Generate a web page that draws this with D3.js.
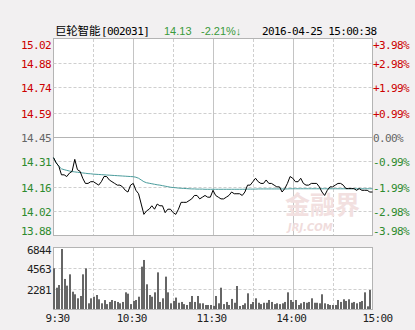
<!DOCTYPE html>
<html>
<head>
<meta charset="utf-8">
<script src="https://cdn.jsdelivr.net/npm/d3@7"></script>
<style>
  body { margin: 0; background: #f2f0f1; }
  svg { display: block; }
</style>
</head>
<body>
<div id="viz"></div>
<script>
// tick labels
var prevClose = 14.45;
var priceTicks = [15.02, 14.88, 14.74, 14.59, 14.45, 14.31, 14.16, 14.02, 13.88];
var pctTicks = ["+3.98%", "+2.98%", "+1.99%", "+0.99%", "0.00%", "-0.99%", "-1.99%", "-2.98%", "-3.98%"];
var volTicks = [2281, 4563, 6844];
var timeLabels = ["9:30", "10:30", "11:30", "14:00", "15:00"];
var timeMinutes = [0, 60, 120, 180, 240];
var halfHours = [30, 90, 150, 210];

// one point every 2 trading minutes, 9:30 .. 15:00
var price = [14.33, 14.30, 14.28, 14.23, 14.23, 14.22, 14.24, 14.25, 14.32, 14.26,
  14.25, 14.21, 14.18, 14.18, 14.19, 14.19, 14.18, 14.17, 14.19, 14.22,
  14.22, 14.20, 14.19, 14.18, 14.17, 14.17, 14.16, 14.14, 14.13, 14.17,
  14.18, 14.14, 14.12, 14.06, 14.00, 14.02, 14.03, 14.05, 14.03, 14.06,
  14.05, 14.05, 14.01, 14.03, 14.03, 14.01, 14.00, 14.03, 14.07, 14.07,
  14.07, 14.08, 14.09, 14.11, 14.11, 14.09, 14.10, 14.11, 14.10, 14.10,
  14.14, 14.11, 14.10, 14.09, 14.09, 14.10, 14.11, 14.13, 14.12, 14.12,
  14.12, 14.11, 14.13, 14.17, 14.17, 14.19, 14.21, 14.19, 14.18, 14.18,
  14.20, 14.18, 14.18, 14.17, 14.16, 14.16, 14.13, 14.15, 14.18, 14.22,
  14.21, 14.19, 14.19, 14.21, 14.18, 14.17, 14.17, 14.18, 14.18, 14.18,
  14.16, 14.13, 14.11, 14.14, 14.16, 14.16, 14.17, 14.18, 14.18, 14.17,
  14.15, 14.15, 14.15, 14.15, 14.14, 14.15, 14.14, 14.14, 14.14, 14.13,
  14.13];

var avgPrice = [14.330, 14.300, 14.280, 14.265, 14.260, 14.256, 14.252, 14.249, 14.247, 14.245,
  14.243, 14.241, 14.239, 14.237, 14.236, 14.234, 14.233, 14.232, 14.231, 14.230,
  14.229, 14.228, 14.227, 14.226, 14.225, 14.224, 14.223, 14.222, 14.221, 14.220,
  14.219, 14.216, 14.210, 14.200, 14.190, 14.184, 14.181, 14.178, 14.175, 14.172,
  14.170, 14.167, 14.164, 14.161, 14.158, 14.156, 14.155, 14.153, 14.152, 14.151,
  14.150, 14.149, 14.148, 14.148, 14.147, 14.147, 14.147, 14.146, 14.146, 14.146,
  14.146, 14.146, 14.146, 14.146, 14.146, 14.146, 14.146, 14.146, 14.146, 14.146,
  14.146, 14.146, 14.146, 14.147, 14.147, 14.147, 14.147, 14.148, 14.148, 14.148,
  14.148, 14.148, 14.148, 14.148, 14.148, 14.148, 14.148, 14.148, 14.148, 14.149,
  14.149, 14.149, 14.149, 14.149, 14.149, 14.149, 14.149, 14.149, 14.149, 14.149,
  14.149, 14.149, 14.149, 14.149, 14.149, 14.149, 14.149, 14.149, 14.149, 14.149,
  14.149, 14.149, 14.149, 14.149, 14.149, 14.149, 14.149, 14.149, 14.149, 14.149,
  14.149];

var volume = [4570, 2390, 2690, 6730, 3370, 2620, 3890, 1940, 1650, 1200,
  1460, 3890, 4560, 640, 1200, 1380, 1570, 1090, 640, 1000,
  550, 790, 1010, 900, 790, 640, 790, 1870, 1720, 550,
  900, 1010, 1380, 4750, 5500, 2770, 1570, 1380, 1870, 4110,
  790, 1200, 3630, 1870, 640, 900, 1280, 700, 790, 550,
  450, 790, 1460, 790, 1460, 640, 640, 450, 450, 450,
  350, 1460, 640, 2390, 550, 790, 450, 1130, 700, 2580,
  340, 450, 640, 1760, 550, 790, 1200, 700, 550, 700,
  700, 1010, 790, 550, 640, 550, 640, 790, 1870, 1010,
  790, 1010, 450, 640, 790, 700, 790, 1200, 700, 700,
  640, 1650, 640, 550, 450, 450, 450, 1010, 790, 1090,
  900, 1090, 700, 790, 640, 790, 900, 1870, 300, 2130];

var W = 415, H = 330;
var mono = "'DejaVu Sans Mono', monospace";
var red = "#cc0000", green = "#2e8b2e", grey = "#666666";

function tone(v) {
  if (v > prevClose) return red;
  if (v < prevClose) return green;
  return grey;
}
function crisp(v) { return Math.round(v) + 0.5; }

var svg = d3.select("#viz").append("svg")
  .attr("width", W).attr("height", H);

svg.append("rect").attr("width", W).attr("height", H).attr("fill", "#f2f0f1");

var x = d3.scaleLinear().domain([0, 240]).range([53.5, 372.5]);
var y = d3.scaleLinear().domain([13.88, 15.02]).range([235, 39]);
var yv = d3.scaleLinear().domain([0, 6844]).range([309, 248]);

// header
var head = svg.append("g").style("font-size", "11px").style("letter-spacing", "-0.6px");
head.append("text").attr("x", 55).attr("y", 35)
  .style("font-family", "'Noto Sans CJK SC'").style("font-size", "11.5px").style("letter-spacing", "-0.2px")
  .attr("fill", "#000").text("巨轮智能");
head.append("text").attr("x", 101).attr("y", 35).style("font-family", mono)
  .attr("fill", "#000").text("[002031]");
head.append("text").attr("x", 164).attr("y", 35).style("font-family", "'Liberation Sans'")
  .style("letter-spacing", "0px").attr("fill", "#3a9a3a").text("14.13");
head.append("text").attr("x", 201).attr("y", 35).style("font-family", "'Liberation Sans'")
  .style("letter-spacing", "0px").attr("fill", "#3a9a3a").text("-2.21%↓");
head.append("text").attr("x", 262).attr("y", 35).style("font-family", mono)
  .attr("fill", "#000").text("2016-04-25 15:00:38");

// panels
svg.append("rect").attr("x", 53.5).attr("y", y(15.02) - 0.5)
  .attr("width", x(240) - x(0)).attr("height", y(13.88) - y(15.02) + 1)
  .attr("fill", "#fff").attr("stroke", "#b4b4b4");
svg.append("rect").attr("x", 53.5).attr("y", yv(6844) - 0.5)
  .attr("width", x(240) - x(0)).attr("height", yv(0) - yv(6844) + 1)
  .attr("fill", "#fff").attr("stroke", "#b4b4b4");

var grid = svg.append("g");

// horizontal price grid
priceTicks.slice(1, -1).forEach(function(t) {
  grid.append("line")
    .attr("x1", x(0)).attr("x2", x(240))
    .attr("y1", crisp(y(t))).attr("y2", crisp(y(t)))
    .attr("stroke", t == prevClose ? "#b4b4b4" : "#cfcfcf")
    .attr("stroke-dasharray", t == prevClose ? null : "3,2");
});
// horizontal volume grid
volTicks.slice(0, -1).forEach(function(t) {
  grid.append("line")
    .attr("x1", x(0)).attr("x2", x(240))
    .attr("y1", crisp(yv(t))).attr("y2", crisp(yv(t)))
    .attr("stroke", "#cfcfcf").attr("stroke-dasharray", "3,2");
});
// vertical grid in both panels
[[y(15.02), y(13.88)], [yv(6844), yv(0)]].forEach(function(r) {
  halfHours.forEach(function(m) {
    grid.append("line").attr("x1", crisp(x(m))).attr("x2", crisp(x(m)))
      .attr("y1", r[0]).attr("y2", r[1])
      .attr("stroke", "#cfcfcf").attr("stroke-dasharray", "3,2");
  });
  timeMinutes.slice(1, -1).forEach(function(m) {
    grid.append("line").attr("x1", crisp(x(m))).attr("x2", crisp(x(m)))
      .attr("y1", r[0]).attr("y2", r[1]).attr("stroke", "#c4c4c4");
  });
});

// watermark
svg.append("text").attr("x", 285).attr("y", 214)
  .style("font-family", "'Noto Sans CJK SC'").style("font-size", "25px").style("font-weight", "bold")
  .attr("fill", "#f2e0e0").text("金融界");
svg.append("text").attr("x", 288).attr("y", 231)
  .style("font-family", "'DejaVu Sans'").style("font-size", "10px").style("font-weight", "bold")
  .style("font-style", "italic").attr("fill", "#f0dcdc").text("JRJ.COM");

// average and price lines
var avgLine = d3.line().x(function(d, i) { return x(i * 2); }).y(function(d) { return y(d); });
svg.append("path").datum(avgPrice).attr("d", avgLine)
  .attr("fill", "none").attr("stroke", "#4a9c9c").attr("stroke-width", 1);
svg.append("path").datum(price).attr("d", avgLine)
  .attr("fill", "none").attr("stroke", "#000").attr("stroke-width", 1);

// volume bars
svg.append("g").selectAll("rect").data(volume).enter().append("rect")
  .attr("x", function(d, i) { return Math.round(x(i * 2) - 0.5); })
  .attr("width", 2)
  .attr("y", function(d) { return yv(d); })
  .attr("height", function(d) { return yv(0) - yv(d); })
  .attr("fill", "#666");

// axis labels
var lab = svg.append("g").style("font-family", mono).style("font-size", "11px")
  .style("letter-spacing", "-0.6px");
priceTicks.forEach(function(t, i) {
  var yy = y(t) + 1.5;
  if (i == 0) yy = y(t) + 6;
  if (i == priceTicks.length - 1) yy = y(t) - 4;
  lab.append("text").attr("x", 51).attr("y", yy).attr("dy", "0.35em")
    .attr("text-anchor", "end").attr("fill", tone(t)).text(t.toFixed(2));
  lab.append("text").attr("x", 373).attr("y", yy).attr("dy", "0.35em")
    .attr("fill", tone(t)).text(pctTicks[i]);
});
volTicks.forEach(function(t, i) {
  var yy = yv(t) + 1;
  if (i == volTicks.length - 1) yy = yv(t) + 2.5;
  lab.append("text").attr("x", 51).attr("y", yy).attr("dy", "0.35em")
    .attr("text-anchor", "end").attr("fill", "#222").text(t);
});
timeLabels.forEach(function(t, i) {
  var m = timeMinutes[i];
  var xx = x(m) - 1.5;
  if (i == 0) { xx = x(m) + 4; }
  if (i == timeLabels.length - 1) { xx = x(m) + 5; }
  lab.append("text").attr("x", xx).attr("y", 318).attr("dy", "0.35em")
    .attr("text-anchor", "middle").attr("fill", "#222").text(t);
});
</script>
</body>
</html>
